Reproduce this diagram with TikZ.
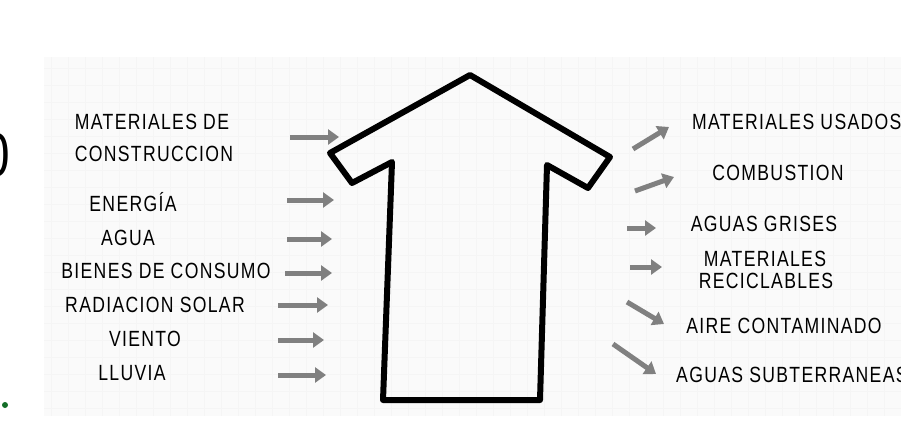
\documentclass[tikz,border=0pt]{standalone}
\usepackage{fontspec}
\setmainfont{Liberation Sans}[FakeStretch=0.8,LetterSpace=6]
\usetikzlibrary{arrows.meta}
\definecolor{grisflecha}{RGB}{128,128,128}
\definecolor{verdepunto}{RGB}{20,110,40}
\newcommand{\flecha}[3]{\coordinate (#1a) at (#2); \coordinate (#1b) at (#3); \draw[flecha] (#1a) -- (#1b);}

\begin{document}
\begin{tikzpicture}[x=1pt, y=-1pt,
  etiqueta/.style={font=\fontsize{22}{22}\selectfont, inner sep=0pt, text height=15.5pt, text depth=0pt},
  flecha/.style={grisflecha, line width=5pt, -{Triangle[length=11pt,width=15pt]}},
  casa/.style={line width=6pt, line join=round}]
\useasboundingbox (0,0) rectangle (901,439);
\fill[black!2] (44,57) rectangle (901,416);
\draw[black!4, line width=0.7pt, step=17pt] (44,57) grid (901,416);
\node[font=\fontsize{62}{62}\selectfont, inner sep=0pt] (cero) at (-4,155) {0};
\fill[verdepunto] (5,405) circle (3);
% vivienda
\draw[casa] (470,75) -- (610,157) -- (588,188) -- (547,165) -- (540,400) -- (383,400)
  -- (392,162) -- (352,183) -- (330,153) -- cycle;
% entradas
\node[etiqueta] (matcons1) at (152,122) {MATERIALES DE};
\node[etiqueta] (matcons2) at (154,154) {CONSTRUCCION};
\node[etiqueta] (energia) at (133,204) {ENERGÍA};
\node[etiqueta] (agua) at (128,238) {AGUA};
\node[etiqueta] (bienes) at (166,271) {BIENES DE CONSUMO};
\node[etiqueta] (radiacion) at (155,305) {RADIACION SOLAR};
\node[etiqueta] (viento) at (145,339) {VIENTO};
\node[etiqueta] (lluvia) at (132,373) {LLUVIA};
\flecha{e1}{290,137}{339,137}
\flecha{e2}{287,200}{334,200}
\flecha{e3}{287,239}{332,239}
\flecha{e4}{285,273}{332,273}
\flecha{e5}{278,305}{328,305}
\flecha{e6}{278,340}{324,340}
\flecha{e7}{278,375}{326,375}
% salidas
\node[etiqueta, anchor=west] (usados) at (692,122) {MATERIALES USADOS};
\node[etiqueta] (combustion) at (778,173) {COMBUSTION};
\node[etiqueta] (grises) at (764,224) {AGUAS GRISES};
\node[etiqueta] (recic1) at (765,259) {MATERIALES};
\node[etiqueta] (recic2) at (766,281) {RECICLABLES};
\node[etiqueta] (aire) at (784,326) {AIRE CONTAMINADO};
\node[etiqueta, anchor=west] (subterr) at (676,375) {AGUAS SUBTERRANEAS};
\flecha{s1}{633,149}{669,127}
\flecha{s2}{635,191}{674,177}
\flecha{s3}{627,228}{656,228}
\flecha{s4}{630,267}{662,267}
\flecha{s5}{627,302}{664,324}
\flecha{s6}{613,344}{656,374}
\end{tikzpicture}
\end{document}
